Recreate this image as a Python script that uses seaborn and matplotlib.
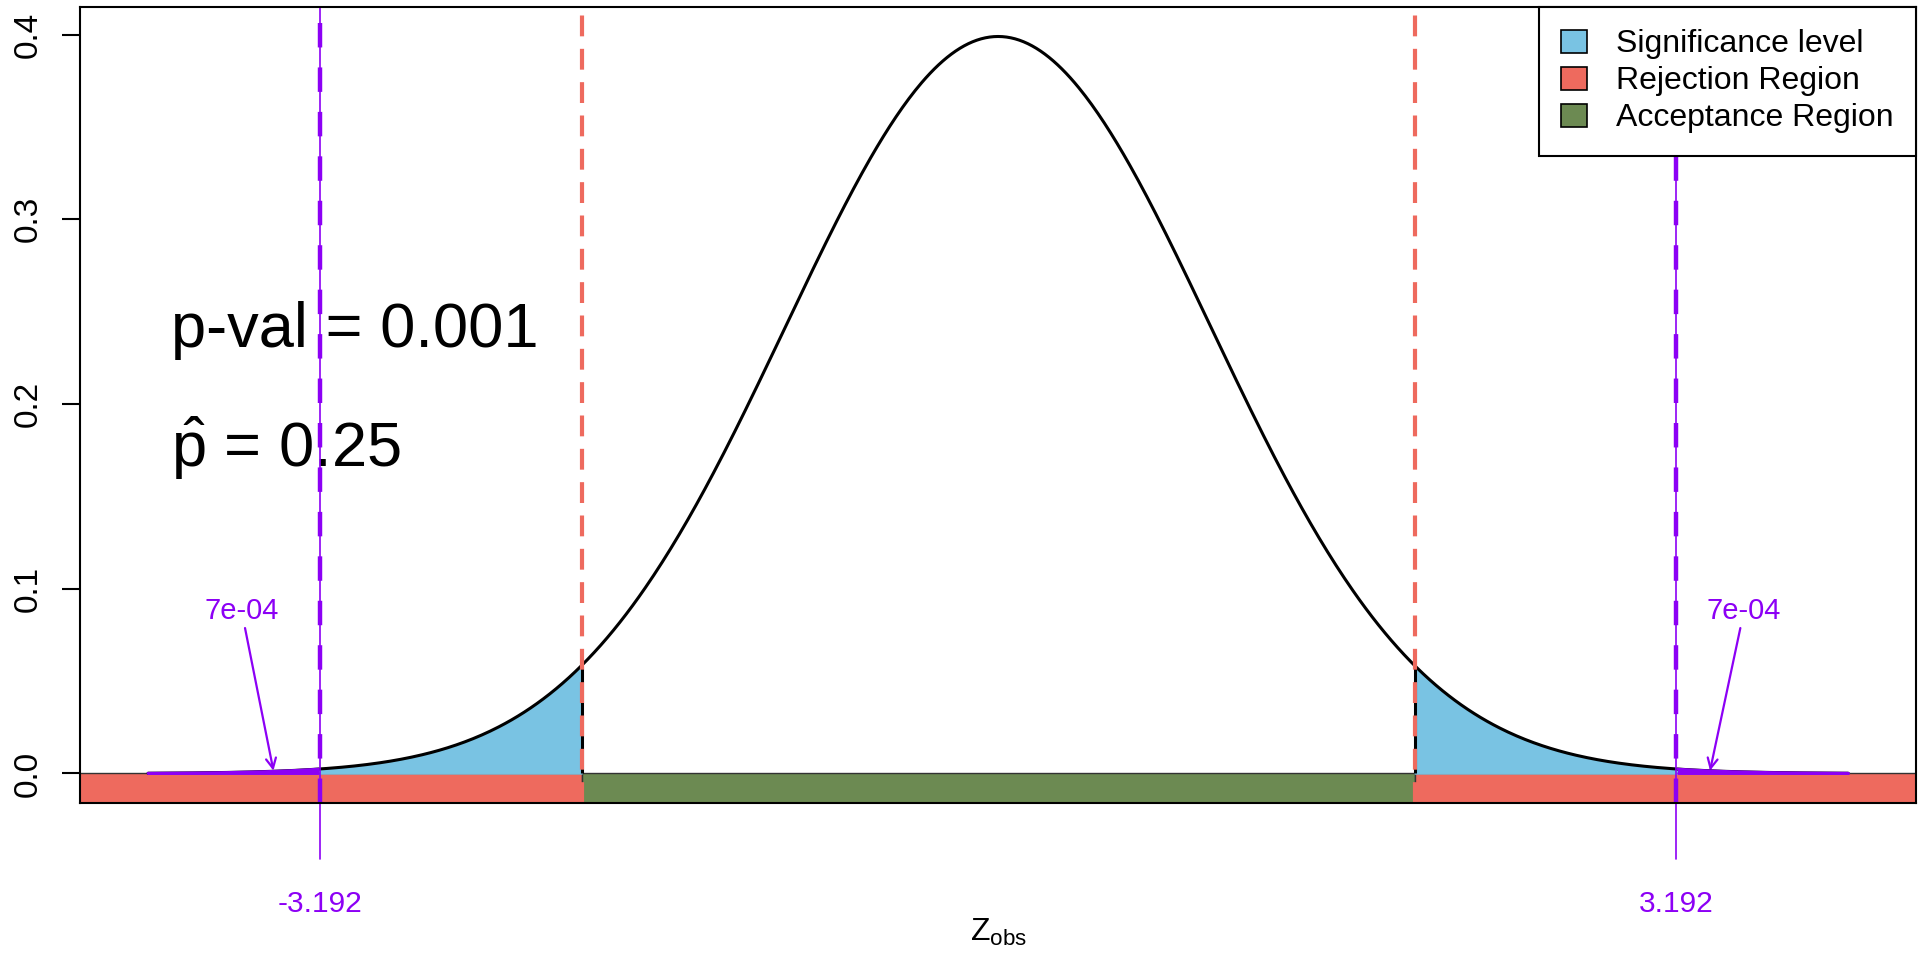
import numpy as np
import pandas as pd
import matplotlib
matplotlib.use('Agg')
import matplotlib.pyplot as plt
from matplotlib.patches import Patch
import seaborn as sns

# ── DATA ─────────────────────────────────────────────────────────────────────
z_crit = 1.96          # critical value (alpha = 0.05, two sided)
z_obs = 3.192          # observed statistic
p_value = 0.001
p_hat = 0.25
tail_label = "7e-04"   # area of each tail beyond |z_obs|
x_range = (-4, 4)
legend_labels = ["Significance level", "Rejection Region", "Acceptance Region"]

# standard normal density (the theoretical curve the chart shows)
z = np.linspace(x_range[0], x_range[1], 801)
dens = np.exp(-z ** 2 / 2) / np.sqrt(2 * np.pi)
df = pd.DataFrame({"z": z, "density": dens})

# ── STYLE ────────────────────────────────────────────────────────────────────
sns.set_style("ticks")
plt.rcParams["font.family"] = ["Liberation Sans", "DejaVu Sans"]
plt.rcParams["mathtext.fontset"] = "custom"
plt.rcParams["mathtext.rm"] = "Liberation Sans"
plt.rcParams["mathtext.it"] = "Liberation Sans:italic"
plt.rcParams["text.color"] = "black"
plt.rcParams["axes.labelcolor"] = "black"
plt.rcParams["ytick.color"] = "black"

c_blue = "#79C3E3"
c_red = "#EE6A5E"
c_green = "#6C8A52"
c_purple = "#8C00F5"

fig = plt.figure(figsize=(19.2, 9.6), dpi=100)
ax = fig.add_axes([0.0417, 0.1635, 0.9563, 0.8292])
ytop = 0.4149

# acceptance / rejection bars under the axis
ax.fill_between([-10, -z_crit], 0, -1, color=c_red, edgecolor="#333333", lw=1, zorder=1)
ax.fill_between([-z_crit, z_crit], 0, -1, color=c_green, edgecolor="#333333", lw=1, zorder=1)
ax.fill_between([z_crit, 10], 0, -1, color=c_red, edgecolor="#333333", lw=1, zorder=1)

# significance level shading
left = df[df.z <= -z_crit]
right = df[df.z >= z_crit]
ax.fill_between(left.z, 0, left.density, color=c_blue, zorder=2)
ax.fill_between(right.z, 0, right.density, color=c_blue, zorder=2)
ax.vlines([-z_crit, z_crit], 0, [left.density.iloc[-1], right.density.iloc[0]],
          color="black", lw=2.2, zorder=3)

# density curve
sns.lineplot(data=df, x="z", y="density", color="black", lw=2.2, ax=ax, zorder=4)

# p-value tails
lt = df[df.z <= -z_obs]
rt = df[df.z >= z_obs]
for part in (lt, rt):
    ax.fill_between(part.z, 0, part.density, color=c_purple, zorder=5)
    ax.plot(part.z, part.density, color=c_purple, lw=2, zorder=5)
    ax.plot(part.z, np.zeros(len(part)), color=c_purple, lw=2, zorder=5)

# critical value lines
for zc in (-z_crit, z_crit):
    ax.axvline(zc, color=c_red, lw=3, dashes=(5, 3), zorder=6)

# observed statistic lines
for zo in (-z_obs, z_obs):
    ax.plot([zo, zo], [-0.0465, ytop], color=c_purple, lw=1.2, clip_on=False, zorder=7)
    ax.axvline(zo, color=c_purple, lw=3.2, dashes=(5.5, 4.5), zorder=7)
    ax.text(zo, -0.0705, f"{zo:.3f}", color=c_purple, fontsize=21.5,
            ha="center", va="center", clip_on=False)

# tail area annotations
for tx, ax_end in ((-3.56, -3.41), (3.51, 3.35)):
    ax.annotate(tail_label, xy=(ax_end, 0.0015), xytext=(tx, 0.0805),
                color=c_purple, fontsize=21, ha="center", va="bottom",
                arrowprops=dict(arrowstyle="->", color=c_purple, lw=1.6,
                                shrinkA=0, shrinkB=0, mutation_scale=18))

# statistics text
ax.text(-3.89, 0.2308, f"p-val = {p_value}", fontsize=45.5, ha="left", va="baseline")
ax.text(-3.89, 0.166, r"$\hat{\mathrm{p}}$" + f" = {p_hat}", fontsize=45.5,
        ha="left", va="baseline")

# axes
ax.set_xlim(-4.32, 4.32)
ax.set_ylim(-0.016, ytop)
ax.set_xticks([])
ax.set_yticks([0, 0.1, 0.2, 0.3, 0.4])
ax.set_yticklabels(["0.0", "0.1", "0.2", "0.3", "0.4"], rotation=90, va="center")
ax.tick_params(axis="y", labelsize=24, length=13, width=1.5, pad=13)
ax.set_xlabel(r"$\mathrm{Z}_{\mathrm{obs}}$", fontsize=23)
ax.xaxis.set_label_coords(0.5, -0.163)
ax.xaxis.label.set_va("center")
ax.set_ylabel("")
for sp in ax.spines.values():
    sp.set_visible(True)
    sp.set_linewidth(1.5)
    sp.set_color("black")
    sp.set_zorder(8)

handles = [Patch(facecolor=c, edgecolor="black", lw=1.2) for c in (c_blue, c_red, c_green)]
leg = ax.legend(handles, legend_labels, loc="upper right", bbox_to_anchor=(1, 1),
                borderaxespad=0, fontsize=23, fancybox=False, framealpha=1,
                edgecolor="black", handlelength=0.82, handleheight=0.72,
                handletextpad=0.9, labelspacing=0.22, borderpad=0.7)
leg.get_frame().set_linewidth(1.5)
leg.set_zorder(9)

fig.savefig("out.png", dpi=100)
